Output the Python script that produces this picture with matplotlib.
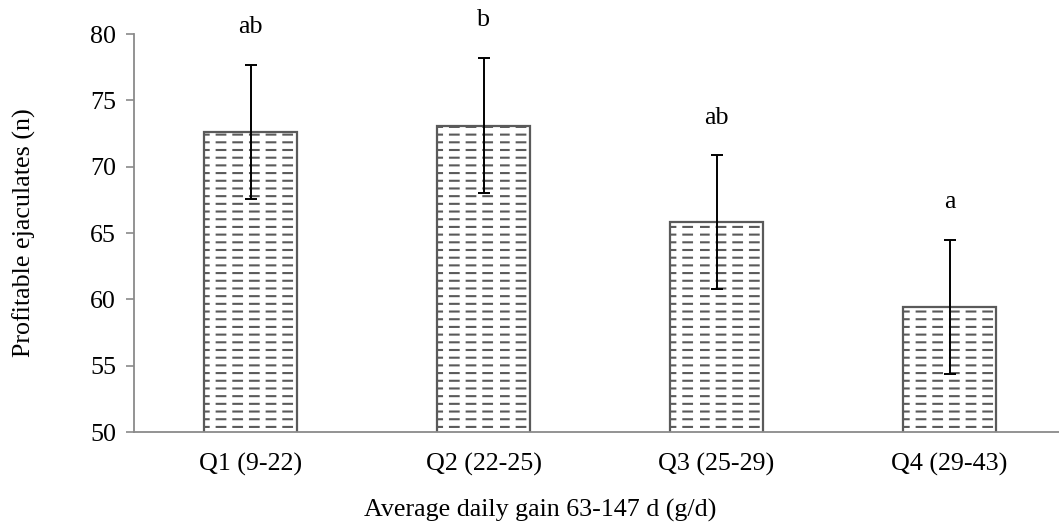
import warnings
warnings.filterwarnings("ignore")
import numpy as np
import matplotlib
matplotlib.use("Agg")
import matplotlib.pyplot as plt
import matplotlib.hatch as mhatch
from matplotlib.path import Path

categories = ["Q1 (9-22)", "Q2 (22-25)", "Q3 (25-29)", "Q4 (29-43)"]
means = [72.6, 73.1, 65.8, 59.4]
errors = [5.05, 5.1, 5.05, 5.05]
letters = ["ab", "b", "ab", "a"]
yticks = [50, 55, 60, 65, 70, 75, 80]


class DashHatch(mhatch.HatchPatternBase):
    rows = 13
    cols = 6
    frac = 0.52

    def __init__(self, hatch, density):
        n = hatch.count('_')
        self.num_vertices = (self.rows * self.cols * 2) if n else 0

    def set_vertices_and_codes(self, vertices, codes):
        k = 0
        for r in range(self.rows):
            y = (r + 0.5) / self.rows
            for c in range(self.cols):
                x0 = c / self.cols
                x1 = x0 + self.frac / self.cols
                vertices[k] = (x0, y)
                vertices[k + 1] = (x1, y)
                codes[k] = Path.MOVETO
                codes[k + 1] = Path.LINETO
                k += 2


mhatch._hatch_types.append(DashHatch)

plt.rcParams['font.family'] = ['Liberation Serif', 'DejaVu Serif']
plt.rcParams['hatch.linewidth'] = 1.5
plt.rcParams['hatch.color'] = '#3a3a3a'

FS = 18.7

fig = plt.figure(figsize=(10.59, 5.31), dpi=100)
ax = fig.add_axes([134 / 1059, 99 / 531, 932 / 1059, 398 / 531])

x = np.arange(len(categories))
ax.bar(x, means, width=0.40, bottom=0, color='white', edgecolor='#5a5a5a',
       linewidth=1.6, hatch='_', zorder=2)
ax.errorbar(x, means, yerr=errors, fmt='none', ecolor='black', elinewidth=1.4,
            capsize=4.3, capthick=1.4, zorder=3)
for xi, m, e, lab in zip(x, means, errors, letters):
    ax.text(xi, m + e + 2.4, lab, ha='center', va='baseline', fontsize=FS)

ax.set_xlim(-0.5, 3.5)
ax.set_ylim(50, 80)
ax.set_yticks(yticks)
ax.set_xticks(x)
ax.set_xticklabels(categories)
ax.tick_params(axis='y', direction='out', length=6, width=1.2, color='#8a8a8a',
               labelsize=FS, pad=7)
ax.tick_params(axis='x', length=0, labelsize=FS, pad=15)
for s in ['top', 'right']:
    ax.spines[s].set_visible(False)
for s in ['left', 'bottom']:
    ax.spines[s].set_color('#8a8a8a')
    ax.spines[s].set_linewidth(1.3)

fig.text(24 / 1059, (531 - 233) / 531, "Profitable ejaculates (n)", rotation=90,
         ha='center', va='center', fontsize=FS)
fig.text(540 / 1059, (531 - 510) / 531, "Average daily gain 63-147 d (g/d)",
         ha='center', va='center', fontsize=FS)

fig.savefig("out.png", dpi=100)
